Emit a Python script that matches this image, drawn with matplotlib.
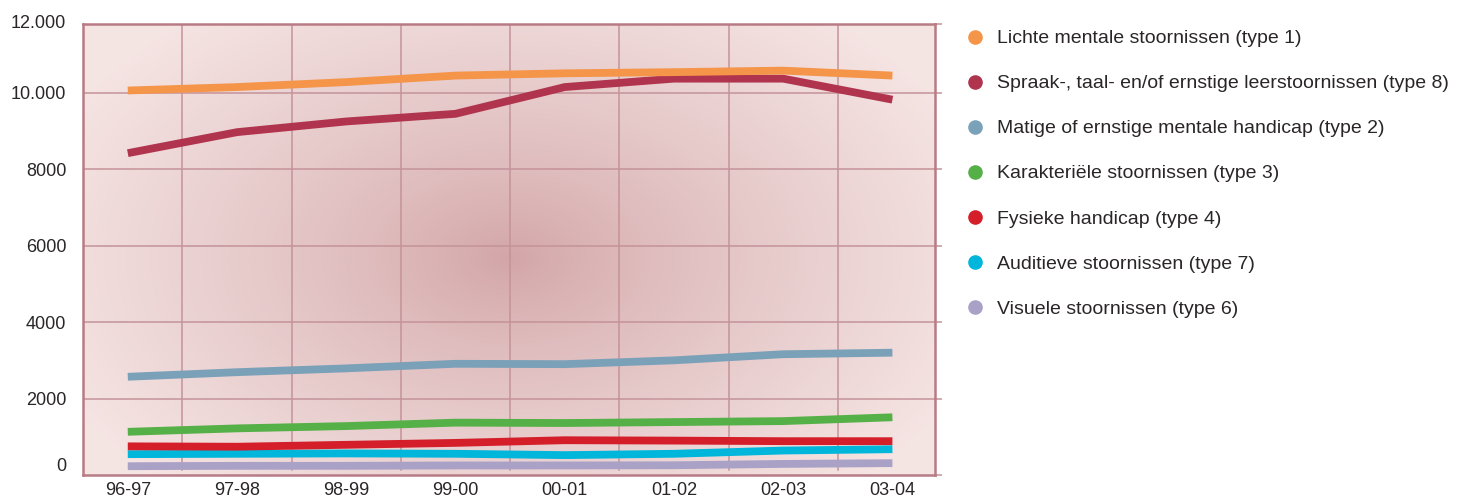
import numpy as np
from matplotlib import pyplot as plt
from matplotlib.lines import Line2D

plt.rcParams['font.family'] = ['Liberation Sans', 'DejaVu Sans']

years = ['96-97', '97-98', '98-99', '99-00', '00-01', '01-02', '02-03', '03-04']

type1 = [10060, 10150, 10280, 10450, 10510, 10540, 10580, 10450]
type8 = [8420, 8970, 9250, 9450, 10150, 10370, 10370, 9820]
type2 = [2570, 2690, 2790, 2910, 2900, 3000, 3160, 3200]
type3 = [1130, 1220, 1280, 1370, 1360, 1385, 1410, 1510]
type4 = [750, 740, 790, 840, 910, 900, 885, 885]
type7 = [545, 555, 565, 555, 520, 555, 640, 675]
type6 = [230, 240, 240, 250, 250, 255, 290, 310]

labels = [
    'Lichte mentale stoornissen (type 1)',
    'Spraak-, taal- en/of ernstige leerstoornissen (type 8)',
    'Matige of ernstige mentale handicap (type 2)',
    'Karakteriële stoornissen (type 3)',
    'Fysieke handicap (type 4)',
    'Auditieve stoornissen (type 7)',
    'Visuele stoornissen (type 6)',
]

yticks = [0, 2000, 4000, 6000, 8000, 10000, 11800]
ytick_labels = ['0', '2000', '4000', '6000', '8000', '10.000', '12.000']

series = [type1, type8, type2, type3, type4, type7, type6]
colors = ['#f4954a', '#b0344d', '#7ba1b8', '#55b047', '#d41f2a', '#00b6da', '#a9a1c6']
# draw order: top lines last so they sit above the others
order = [6, 5, 4, 3, 2, 1, 0]

grid_color = '#c4939a'
edge_color = '#b87a84'
text_color = '#2a2627'


def background(ax):
    nx, ny = 400, 200
    xx, yy = np.meshgrid(np.linspace(0, 1, nx), np.linspace(0, 1, ny))
    r = np.sqrt(((xx - 0.50) / 0.58) ** 2 + ((yy - 0.52) / 0.70) ** 2)
    t = np.clip(r, 0, 1) ** 0.8
    center = np.array([0.825, 0.645, 0.655])
    edge = np.array([0.96, 0.895, 0.89])
    img = center + (edge - center) * t[..., None]
    ax.imshow(img, extent=(0, 1, 0, 1), transform=ax.transAxes,
              aspect='auto', zorder=0, interpolation='bilinear')


def main():
    fig = plt.figure(figsize=(14.57, 5.01), dpi=100)
    ax = fig.add_axes([83 / 1457, 1 - 475 / 501, (935 - 83) / 1457, (475 - 24) / 501])
    background(ax)

    x = np.arange(len(years))
    for i in order:
        ax.plot(x, series[i], color=colors[i], lw=5.6, zorder=3,
                solid_capstyle='butt', solid_joinstyle='round')

    ax.set_xlim(-0.41, len(years) - 1 + 0.39)
    ax.set_ylim(0, 11800)

    ax.set_xticks(x)
    ax.set_xticklabels(years)
    ax.set_yticks(yticks)
    ax.set_yticklabels(ytick_labels)

    for v in yticks[1:-1]:
        ax.axhline(v, color=grid_color, lw=1.1, zorder=1)
    for v in x[:-1] + 0.5:
        ax.axvline(v, ymin=0.012, color=grid_color, lw=1.1, zorder=1)

    ax.tick_params(axis='x', length=0, pad=5, labelsize=13, labelcolor=text_color)
    # right-side stubs of the gridlines; left ticks hidden (their length still counts in pad)
    ax.tick_params(axis='y', which='major', left=False, right=True, direction='out',
                   length=5, width=1.1, color=grid_color, pad=7,
                   labelsize=13, labelcolor=text_color)
    for lab in ax.get_yticklabels():
        if lab.get_text() == '0':
            lab.set_va('bottom')
        elif lab.get_text() == '12.000':
            lab.set_va('center')

    for side in ['left', 'right', 'top', 'bottom']:
        ax.spines[side].set_color(edge_color)
        ax.spines[side].set_linewidth(1.8)
        ax.spines[side].set_zorder(4)

    handles = [Line2D([], [], marker='o', ls='none', ms=9.5, color=c) for c in colors]
    fig.legend(handles, labels, loc='upper left', bbox_to_anchor=(957 / 1457, 1 - 22 / 501),
               frameon=False, fontsize=14, labelspacing=1.41, handlelength=1.0,
               handletextpad=0.65, borderaxespad=0, labelcolor=text_color)

    fig.savefig('out.png', dpi=100)


if __name__ == '__main__':
    main()
